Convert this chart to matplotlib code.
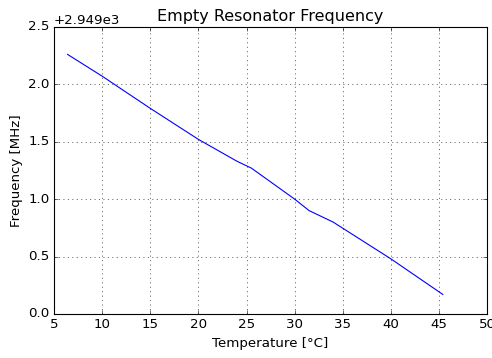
import matplotlib
matplotlib.use("Agg")
import matplotlib.pyplot as plt

# temperature [C] and resonator frequency [MHz]
temperature = [6.4, 10.0, 15.0, 20.0, 24.0, 25.5, 30.0, 31.5, 34.0, 40.0, 45.4]
frequency = [2949 + v for v in [2.26, 2.07, 1.79, 1.52, 1.33, 1.27, 1.00, 0.90, 0.80, 0.48, 0.17]]

plt.style.use("classic")

fig = plt.figure(figsize=(6.15, 4.475), dpi=80, facecolor="white")
ax = fig.add_axes([0.11, 0.123, 0.88, 0.802])
ax.plot(temperature, frequency, "b-")
ax.set_xlim(5, 50)
ax.set_ylim(2949.0, 2951.5)
ax.yaxis.get_major_formatter().set_useOffset(2949.0)
ax.grid(True)
ax.set_xlabel("Temperature [°C]")
ax.set_ylabel("Frequency [MHz]")
ax.set_title("Empty Resonator Frequency")
fig.savefig("out.png", dpi=80, facecolor="white")
